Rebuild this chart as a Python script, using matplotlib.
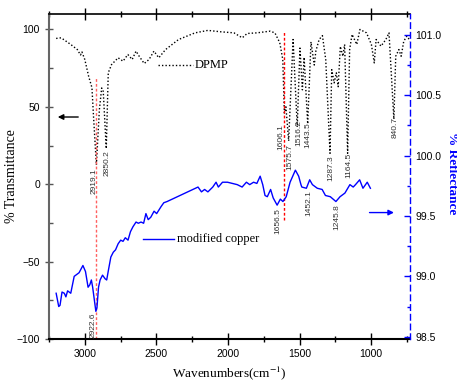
import matplotlib
matplotlib.use("Agg")
import matplotlib.pyplot as plt

plt.rcParams['font.family'] = ['Liberation Sans', 'DejaVu Sans']
plt.rcParams['mathtext.fontset'] = 'stix'
SERIF = ['Liberation Serif', 'DejaVu Serif']

# ---- DPMP (% Transmittance, left axis) ----
dpmp_wn = [3200, 3165, 3098, 3052, 3030, 3020, 3000, 2973, 2950, 2939, 2919,
           2898, 2882, 2871, 2850, 2836, 2813, 2767, 2733, 2699, 2669, 2642,
           2620, 2585, 2551, 2517, 2483, 2436, 2345, 2230, 2140, 2051, 1958,
           1900, 1866, 1798, 1706, 1672, 1638, 1617, 1606, 1595, 1576, 1545,
           1516, 1497, 1480, 1468, 1443, 1420, 1397, 1386, 1363, 1340, 1317,
           1287, 1275, 1258, 1243, 1230, 1215, 1197, 1185, 1164, 1150, 1133,
           1100, 1078, 1032, 998, 978, 965, 931, 897, 875, 841, 828, 806, 790,
           772, 750, 725]
dpmp_t = [94.2, 94.6, 90.3, 87.0, 83.5, 85.5, 80.6, 69.7, 62.4, 43.9, 12.5,
          48.2, 62.2, 60.0, 23.0, 72.0, 77.3, 81.7, 79.5, 83.8, 80.6, 86.0,
          82.7, 78.0, 80.6, 86.0, 81.7, 87.0, 93.5, 97.8, 99.4, 98.5, 97.8,
          94.6, 97.4, 97.8, 98.9, 97.8, 91.4, 80.6, 46.0, 50.0, 28.0, 93.5,
          37.0, 88.0, 61.0, 82.0, 39.0, 92.0, 77.0, 86.0, 93.5, 96.0, 80.6,
          20.0, 74.0, 65.5, 72.0, 63.0, 89.0, 82.7, 90.3, 20.0, 87.0, 96.8,
          90.3, 100.0, 97.8, 90.3, 78.4, 93.5, 89.2, 93.5, 97.8, 42.0, 82.7,
          87.0, 82.7, 92.4, 95.7, 92.4]

# ---- modified copper (% Reflectance, right axis) ----
cu_wn = [3200, 3182, 3173, 3159, 3143, 3132, 3120, 3098, 3074, 3040, 3013,
         2995, 2977, 2965, 2954, 2945, 2922.6, 2915, 2904, 2893, 2876, 2858,
         2847, 2835, 2818, 2801, 2785, 2767, 2749, 2733, 2717, 2698, 2681,
         2664, 2642, 2626, 2607, 2589, 2573, 2557, 2539, 2516, 2498, 2482,
         2466, 2448, 2425, 2209, 2185, 2163, 2140, 2106, 2083, 2067, 2038,
         2003, 1969, 1935, 1901, 1871, 1848, 1821, 1798, 1775, 1757, 1741,
         1725, 1702, 1684, 1656.5, 1634, 1616, 1593, 1566, 1529, 1506, 1490,
         1484, 1452.1, 1429, 1410, 1376, 1342, 1319, 1285, 1245.8, 1217, 1183,
         1148, 1125, 1109, 1080, 1057, 1027, 1005]
cu_r = [98.86, 98.75, 98.76, 98.87, 98.86, 98.83, 98.88, 98.86, 99.00, 99.03,
        99.09, 99.04, 98.91, 98.93, 98.97, 98.91, 98.71, 98.74, 98.91, 98.97,
        99.01, 98.98, 98.97, 99.05, 99.16, 99.20, 99.22, 99.27, 99.30, 99.29,
        99.32, 99.30, 99.37, 99.41, 99.45, 99.44, 99.45, 99.44, 99.52, 99.47,
        99.49, 99.54, 99.52, 99.55, 99.58, 99.61, 99.62, 99.74, 99.70, 99.72,
        99.70, 99.74, 99.78, 99.74, 99.78, 99.78, 99.77, 99.76, 99.74, 99.78,
        99.76, 99.78, 99.77, 99.83, 99.76, 99.67, 99.66, 99.72, 99.65, 99.59,
        99.64, 99.62, 99.66, 99.78, 99.88, 99.83, 99.76, 99.74, 99.73, 99.80,
        99.76, 99.73, 99.72, 99.67, 99.66, 99.62, 99.66, 99.69, 99.76, 99.74,
        99.76, 99.80, 99.73, 99.78, 99.73]

# ---- reference lines (wavenumber, T from, T to) ----
ref_wn = [2921, 1606]
ref_lo = [-100, -23]
ref_hi = [69, 98.7]
ref_col = ['#ff6060', 'red']

# ---- peak labels (text, wn, T position) ----
peak_txt = ['2919.1', '2850.2', '2922.6', '1606.1', '1575.7', '1516.2',
            '1443.5', '1287.3', '1164.5', '840.7', '1656.5', '1452.1', '1245.8']
peak_wn = [2937, 2847, 2943, 1631, 1570, 1508, 1440, 1280, 1159, 834, 1650,
           1438, 1239]
peak_t = [2.2, 13.9, -91.1, 30.7, 17.7, 33.3, 32.0, 10.6, 11.9, 36.5, -23.7,
          -12.1, -21.1]

fig = plt.figure(figsize=(4.57, 3.83), dpi=100)
ax = fig.add_axes([0.1072, 0.1149, 0.791, 0.8486])
ax2 = ax.twinx()

ax.plot(dpmp_wn, dpmp_t, color='black', lw=1.0, linestyle=(0, (1, 1.5)))
for w, lo, hi, c in zip(ref_wn, ref_lo, ref_hi, ref_col):
    ax.plot([w, w], [lo, hi], color=c, lw=1.0, linestyle=(0, (2, 1.5)))
for t, w, y in zip(peak_txt, peak_wn, peak_t):
    ax.text(w, y, t, rotation=90, fontsize=6, ha='center', va='center',
            color='#333333')

ax2.plot(cu_wn, cu_r, color='#0000ff', lw=1.0)

ax.set_xlim(3200, 725)
ax.set_ylim(-100, 110)
ax2.set_ylim(98.481, 101.174)

ax.set_xticks([3000, 2500, 2000, 1500, 1000])
ax.set_xticks([3250, 2750, 2250, 1750, 1250, 750], minor=True)
ax.set_yticks([100, 50, 0, -50, -100])
ax.set_yticks([75, 25, -25, -75], minor=True)
ax2.set_yticks([101.0, 100.5, 100.0, 99.5, 99.0, 98.5])
ax2.set_yticklabels(['101.0', '100.5', '100.0', '99.5', '99.0', '98.5'])
ax2.set_yticks([100.75, 100.25, 99.75, 99.25, 98.75], minor=True)

ax.tick_params(axis='x', which='major', direction='inout', length=8,
               labelsize=7.5, top=True, width=1)
ax.tick_params(axis='x', which='minor', direction='inout', length=5,
               top=True, width=1)
ax.tick_params(axis='y', which='major', direction='inout', length=6,
               labelsize=7.5, width=1, color='#555555')
ax.tick_params(axis='y', which='minor', direction='in', length=3, width=1,
               color='#555555')
ax.tick_params(axis='y', right=False, which='both')
ax2.tick_params(axis='y', which='major', direction='in', length=4,
                labelsize=7.5, colors='#0000ff', labelcolor='black', width=1)
ax2.tick_params(axis='y', which='minor', direction='in', length=2,
                colors='#0000ff', width=1)

ax.spines['right'].set_visible(False)
ax.spines['top'].set_linewidth(1.2)
ax.spines['bottom'].set_linewidth(1.5)
ax.spines['left'].set_linewidth(1.5)
ax.spines['left'].set_color('#666666')
for s in ['top', 'bottom', 'left']:
    ax2.spines[s].set_visible(False)
ax2.spines['right'].set_color('#0000ff')
ax2.spines['right'].set_linestyle((0, (4, 3)))
ax2.spines['right'].set_linewidth(1.0)

ax.set_xlabel('Wavenumbers(cm$^{-1}$)', family=SERIF, fontsize=9.5,
              va='center')
ax.xaxis.set_label_coords(0.5, -0.105)
ax.set_ylabel('% Transmittance', family=SERIF, fontsize=10)
ax.yaxis.set_label_coords(-0.087, 0.5)
ax2.set_ylabel('% Reflectance', family=SERIF, fontsize=9.5, color='#0000ff',
               fontweight='bold', rotation=270, va='center')
ax2.yaxis.set_label_coords(1.115, 0.51)

# legend-like keys and arrows
ax.plot([0.3015, 0.398], [0.843, 0.843], transform=ax.transAxes,
        color='black', lw=1.0, linestyle=(0, (1, 1.5)))
ax.text(0.402, 0.843, 'DPMP', transform=ax.transAxes, family=SERIF,
        fontsize=9, va='center', ha='left')
ax.plot([0.259, 0.346], [0.307, 0.307], transform=ax.transAxes,
        color='#0000ff', lw=1.0)
ax.text(0.354, 0.307, 'modified copper', transform=ax.transAxes,
        family=SERIF, fontsize=9, va='center', ha='left')
ax.annotate('', xy=(0.0166, 0.683), xytext=(0.0885, 0.683),
            xycoords='axes fraction',
            arrowprops=dict(arrowstyle='-|>', color='black', lw=1.0,
                            mutation_scale=8))
ax.annotate('', xy=(0.962, 0.389), xytext=(0.879, 0.389),
            xycoords='axes fraction',
            arrowprops=dict(arrowstyle='-|>', color='#0000ff', lw=1.0,
                            mutation_scale=8))

fig.savefig('out.png', dpi=100)
